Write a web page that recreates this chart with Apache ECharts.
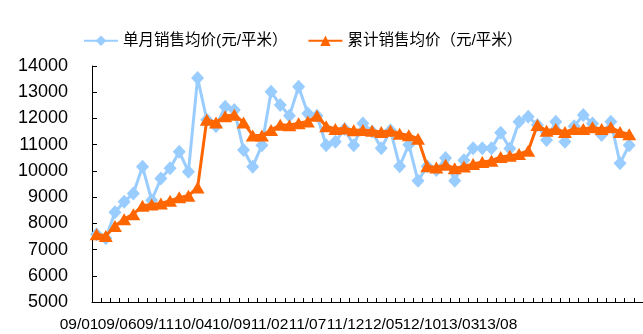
<!DOCTYPE html>
<html>
<head>
<meta charset="utf-8">
<script src="https://cdn.jsdelivr.net/npm/echarts@6/dist/echarts.min.js"></script>
<style>
  html, body { margin: 0; padding: 0; background: #ffffff; }
  #chart { width: 643px; height: 334px; }
</style>
</head>
<body>
<div id="chart"></div>
<script>
// Monthly categories, Jan 2009 through Dec 2013
const months = [
  '09/01','09/02','09/03','09/04','09/05','09/06','09/07','09/08','09/09','09/10','09/11','09/12',
  '10/01','10/02','10/03','10/04','10/05','10/06','10/07','10/08','10/09','10/10','10/11','10/12',
  '11/01','11/02','11/03','11/04','11/05','11/06','11/07','11/08','11/09','11/10','11/11','11/12',
  '12/01','12/02','12/03','12/04','12/05','12/06','12/07','12/08','12/09','12/10','12/11','12/12',
  '13/01','13/02','13/03','13/04','13/05','13/06','13/07','13/08','13/09','13/10','13/11','13/12'
];

// Labels printed under the category axis
const tickLabels = ['09/01','09/06','09/11','10/04','10/09','11/02','11/07','11/12','12/05','12/10','13/03','13/08'];

// Average selling price of the month (yuan per square metre)
const monthlyPrice = [
  7580, 7430, 8420, 8820, 9140, 10160, 8880, 9710, 10100, 10730, 9970, 13540,
  11950, 11700, 12450, 12320, 10800, 10160, 10980, 13020, 12510, 12100, 13210, 12190,
  12100, 10980, 11110, 11600, 10980, 11810, 11500, 10860, 11550, 10180, 11000, 9620,
  10180, 10030, 10490, 9620, 10410, 10860, 10860, 10860, 11450, 10850, 11870, 12060,
  11750, 11180, 11870, 11110, 11700, 12130, 11810, 11370, 11870, 10290, 10980
];

// Year-to-date cumulative average selling price (yuan per square metre)
const cumulativePrice = [
  7580, 7520, 7900, 8160, 8350, 8670, 8720, 8760, 8860, 8990, 9050, 9370,
  11950, 11850, 12080, 12140, 11850, 11350, 11350, 11560, 11760, 11740, 11820, 11880,
  12100, 11700, 11600, 11620, 11550, 11560, 11530, 11480, 11530, 11420, 11360, 11230,
  10180, 10130, 10230, 10100, 10170, 10260, 10340, 10390, 10530, 10580, 10640, 10770,
  11750, 11530, 11600, 11480, 11600, 11600, 11660, 11600, 11660, 11480, 11400
];

const seriesNames = ['单月销售均价(元/平米）', '累计销售均价（元/平米）'];
const yMin = 5000, yMax = 14000, yStep = 1000;

const latin = '"Liberation Sans", Arial, sans-serif';
const cjk = '"Liberation Sans", "Noto Sans CJK SC", sans-serif';

const chart = echarts.init(document.getElementById('chart'), null, { renderer: 'canvas' });

chart.setOption({
  animation: false,
  backgroundColor: '#ffffff',
  legend: {
    data: seriesNames,
    left: 83,
    top: 33,
    padding: 0,
    itemWidth: 34,
    itemHeight: 13,
    itemGap: 20,
    textStyle: { fontFamily: cjk, fontSize: 15.5, color: '#000000' }
  },
  grid: [
    { left: 92, top: 66, bottom: 32, right: -8, containLabel: false },
    { left: 60, width: 457, top: 66, bottom: 32, show: false }
  ],
  xAxis: [
    {
      type: 'category',
      gridIndex: 0,
      data: months,
      boundaryGap: true,
      axisLine: { lineStyle: { color: '#000000', width: 1 } },
      axisTick: { show: true, inside: true, length: 4, interval: 0, lineStyle: { color: '#000000' } },
      axisLabel: { show: false },
      splitLine: { show: false }
    },
    {
      type: 'category',
      gridIndex: 1,
      data: tickLabels,
      boundaryGap: true,
      axisLine: { show: false },
      axisTick: { show: false },
      axisLabel: { interval: 0, fontFamily: latin, fontSize: 15.5, color: '#000000', margin: 15 },
      splitLine: { show: false }
    }
  ],
  yAxis: [
    {
      type: 'value',
      gridIndex: 0,
      min: yMin,
      max: yMax,
      interval: yStep,
      axisLine: { show: true, lineStyle: { color: '#000000', width: 1 } },
      axisTick: { show: true, inside: true, length: 5, lineStyle: { color: '#000000' } },
      axisLabel: {
        fontFamily: latin, fontSize: 18, color: '#000000', margin: 24,
        formatter: (v) => String(v)
      },
      splitLine: { show: false }
    },
    { type: 'value', gridIndex: 1, show: false, min: yMin, max: yMax }
  ],
  series: [
    {
      name: seriesNames[0],
      type: 'line',
      xAxisIndex: 0,
      yAxisIndex: 0,
      data: monthlyPrice,
      symbol: 'diamond',
      symbolSize: [13, 14],
      showAllSymbol: true,
      itemStyle: { color: '#99CCFF' },
      lineStyle: { color: '#99CCFF', width: 3 },
      z: 2
    },
    {
      name: seriesNames[1],
      type: 'line',
      xAxisIndex: 0,
      yAxisIndex: 0,
      data: cumulativePrice,
      symbol: 'triangle',
      symbolSize: [14, 12],
      showAllSymbol: true,
      itemStyle: { color: '#FF6600' },
      lineStyle: { color: '#FF6600', width: 3 },
      z: 3
    }
  ]
});
</script>
</body>
</html>
